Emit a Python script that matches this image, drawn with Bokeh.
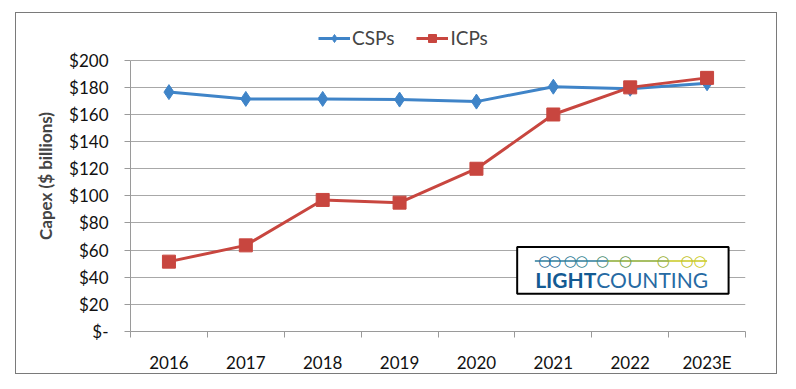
from bokeh.plotting import figure
from bokeh.models import FixedTicker, Legend, LegendItem, BoxAnnotation, Label, Range1d, InlineStyleSheet
from bokeh.embed import file_html
from bokeh.resources import INLINE

years = ["2016", "2017", "2018", "2019", "2020", "2021", "2022", "2023E"]
csps = [176.5, 171.5, 171.5, 171, 169.5, 180.5, 179, 183]
icps = [51.5, 63.5, 97, 95, 120, 160, 180, 187]
y_ticks = [0, 20, 40, 60, 80, 100, 120, 140, 160, 180, 200]
y_tick_labels = ["$-", "$20", "$40", "$60", "$80", "$100", "$120", "$140", "$160", "$180", "$200"]

FONT = "Lato"
BLUE = "#3f84c8"
RED = "#c8463f"

xs = [i + 0.5 for i in range(len(years))]
bounds = list(range(len(years) + 1))

# frame extends above the $200 line so the legend sits inside it
p = figure(width=762, height=362, x_range=Range1d(0, len(years)), y_range=Range1d(0, 229.3),
           output_backend="svg", toolbar_location=None,
           min_border_left=114, min_border_right=33, min_border_top=7, min_border_bottom=42)
p.styles = {"border": "1.5px solid #7a7a7a"}
p.stylesheets = [InlineStyleSheet(css=":host { margin-left: 15px !important; margin-top: 12px !important; }")]
p.outline_line_color = None
p.background_fill_color = "white"
p.border_fill_color = "white"

# axes
p.xgrid.visible = False
p.ygrid.grid_line_color = "#a8a8a8"
p.ygrid.grid_line_width = 1
p.yaxis.ticker = FixedTicker(ticks=y_ticks)
p.yaxis.bounds = (0, 200)
p.yaxis.major_label_overrides = {t: l for t, l in zip(y_ticks, y_tick_labels)}
p.yaxis.axis_line_color = "#9a9a9a"
p.yaxis.major_tick_line_color = "#9a9a9a"
p.yaxis.major_tick_out = 6
p.yaxis.major_tick_in = 0
p.yaxis.minor_tick_line_color = None
p.yaxis.major_label_standoff = 16
p.yaxis.major_label_text_font = FONT
p.yaxis.major_label_text_font_size = "17px"
p.yaxis.major_label_text_color = "#111111"
p.yaxis.axis_label = "Capex ($ billions)"
p.yaxis.axis_label_text_font = FONT
p.yaxis.axis_label_text_font_style = "bold"
p.yaxis.axis_label_text_font_size = "17px"
p.yaxis.axis_label_standoff = 10

p.xaxis.ticker = FixedTicker(ticks=xs, minor_ticks=bounds)
p.xaxis.major_label_overrides = {x: y for x, y in zip(xs, years)}
p.xaxis.axis_line_color = "#9a9a9a"
p.xaxis.major_tick_line_color = None
p.xaxis.major_tick_out = 0
p.xaxis.major_tick_in = 0
p.xaxis.minor_tick_line_color = "#9a9a9a"
p.xaxis.minor_tick_out = 6
p.xaxis.minor_tick_in = 0
p.xaxis.major_label_standoff = 14
p.xaxis.major_label_text_font = FONT
p.xaxis.major_label_text_font_size = "17px"
p.xaxis.major_label_text_color = "#111111"

# series
l1 = p.line(xs, csps, line_color=BLUE, line_width=3)
m1 = p.scatter(xs, csps, marker="diamond", size=15, fill_color=BLUE, line_color=BLUE)
l2 = p.line(xs, icps, line_color=RED, line_width=3)
m2 = p.scatter(xs, icps, marker="square", size=13, fill_color=RED, line_color=RED)

legend = Legend(items=[LegendItem(label="CSPs", renderers=[l1, m1]),
                       LegendItem(label="ICPs", renderers=[l2, m2])],
                orientation="horizontal", location=(188, 282),
                label_text_font=FONT, label_text_font_size="19px",
                glyph_width=32, glyph_height=20, label_standoff=2, spacing=22,
                padding=0, margin=0, border_line_color=None, background_fill_alpha=0)
p.add_layout(legend, "center")

# logo
p.add_layout(BoxAnnotation(left=5.03, right=7.78, bottom=27.8, top=62.3,
                           fill_color="white", fill_alpha=1, line_color="black",
                           line_alpha=1, line_width=2))
logo_y = 52.0
p.add_layout(BoxAnnotation(left=5.26, right=6.2, bottom=logo_y - 0.5, top=logo_y + 0.6,
                           fill_color="#2a7a9a", fill_alpha=1, line_color=None))
p.add_layout(BoxAnnotation(left=6.2, right=7.0, bottom=logo_y - 0.5, top=logo_y + 0.6,
                           fill_color="#8aaa30", fill_alpha=1, line_color=None))
p.add_layout(BoxAnnotation(left=7.0, right=7.5, bottom=logo_y - 0.5, top=logo_y + 0.6,
                           fill_color="#c8c820", fill_alpha=1, line_color=None))
circ_x = [5.39, 5.52, 5.72, 5.87, 6.14, 6.44, 6.93, 7.24, 7.41]
circ_c = ["#1f6a9a", "#1f6a9a", "#2a7a96", "#2f8290", "#4a8e70", "#6a9a50", "#9ab030", "#c0c020", "#cccc20"]
for cx, cc in zip(circ_x, circ_c):
    p.add_layout(Label(x=cx, y=logo_y + 0.1, text="\u25CB", text_color=cc, text_font="DejaVu Sans",
                       text_font_size="15px", text_font_style="bold", text_align="center",
                       text_baseline="middle"))
p.add_layout(Label(x=6.06, y=28.0 + 10.5, text="LIGHT", text_font=FONT, text_font_style="bold",
                   text_font_size="21px", text_color="#135a92", text_align="right", text_baseline="alphabetic"))
p.add_layout(Label(x=6.06, y=28.0 + 10.5, text="COUNTING", text_font=FONT,
                   text_font_size="21px", text_color="#266aa3", text_align="left", text_baseline="alphabetic"))

open("out.html", "w").write(file_html(p, INLINE))
